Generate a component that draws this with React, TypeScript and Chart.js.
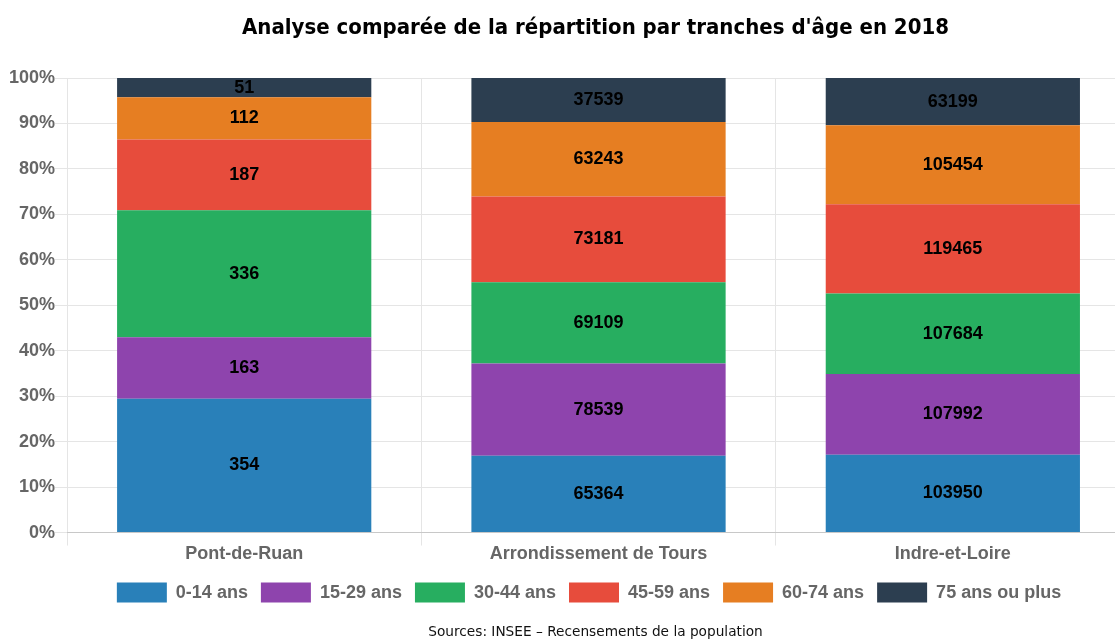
import React, { useEffect, useRef } from "react";
import { Chart, registerables } from "chart.js";

Chart.register(...registerables);

const categories = ["Pont-de-Ruan", "Arrondissement de Tours", "Indre-et-Loire"];
const seriesNames = ["0-14 ans", "15-29 ans", "30-44 ans", "45-59 ans", "60-74 ans", "75 ans ou plus"];
const colors = ["#2980b9", "#8e44ad", "#27ae60", "#e74c3c", "#e67e22", "#2c3e50"];
const age0_14 = [354, 65364, 103950];
const age15_29 = [163, 78539, 107992];
const age30_44 = [336, 69109, 107684];
const age45_59 = [187, 73181, 119465];
const age60_74 = [112, 63243, 105454];
const age75plus = [51, 37539, 63199];
const yTicks = [0, 10, 20, 30, 40, 50, 60, 70, 80, 90, 100];
const titleText = "Analyse comparée de la répartition par tranches d'âge en 2018";
const sourceText = "Sources: INSEE – Recensements de la population";

const rawSeries = [age0_14, age15_29, age30_44, age45_59, age60_74, age75plus];
const FONT = "'Liberation Sans', Arial, sans-serif";

export default function App() {
  const ref = useRef<HTMLCanvasElement>(null);
  useEffect(() => {
    const totals = categories.map((_, i) => rawSeries.reduce((s, arr) => s + arr[i], 0));
    const labelPlugin = {
      id: "segLabels",
      afterLayout(chart: any) {
        const shift = (b: any, dx: number) => {
          if (!b) return;
          b.left += dx;
          b.right += dx;
        };
        shift(chart.titleBlock, 26);
        shift(chart.legend, 19.5);
        chart.boxes.forEach((b: any) => {
          if (b !== chart.titleBlock && b.options && b.options.text === sourceText) shift(b, 26);
        });
      },
      afterDatasetsDraw(chart: any) {
        const ctx = chart.ctx;
        ctx.save();
        ctx.font = "bold 18px " + FONT;
        ctx.fillStyle = "#000";
        ctx.textAlign = "center";
        ctx.textBaseline = "middle";
        chart.data.datasets.forEach((ds: any, di: number) => {
          const meta = chart.getDatasetMeta(di);
          meta.data.forEach((el: any, i: number) => {
            const cy = (el.y + el.base) / 2;
            ctx.fillText(String(rawSeries[di][i]), el.x, cy);
          });
        });
        ctx.restore();
      },
    };
    const chart = new Chart(ref.current!, {
      type: "bar",
      data: {
        labels: categories,
        datasets: seriesNames.map((name, si) => ({
          label: name,
          data: rawSeries[si].map((v, i) => (v / totals[i]) * 100),
          backgroundColor: colors[si],
          borderWidth: 0,
          barPercentage: 0.7175,
          categoryPercentage: 1,
        })),
      },
      options: {
        animation: false,
        responsive: false,
        maintainAspectRatio: false,
        layout: { padding: { left: 9, right: 0, top: 0, bottom: 0 } },
        plugins: {
          title: {
            display: true,
            text: titleText,
            color: "#000",
            font: { family: "'DejaVu Sans Condensed', 'DejaVu Sans', sans-serif", size: 22, weight: "bold" },
            padding: { top: 15, bottom: 36.6 },
          },
          subtitle: {
            display: true,
            position: "bottom",
            text: sourceText,
            color: "#111",
            font: { family: "'DejaVu Sans', sans-serif", size: 13.7, weight: "normal" },
            padding: { top: 12, bottom: 0 },
          },
          legend: {
            position: "bottom",
            labels: {
              color: "#666",
              boxWidth: 50,
              boxHeight: 20,
              padding: 13,
              font: { family: FONT, size: 18, weight: "bold" },
            },
          },
          tooltip: { enabled: false },
        },
        scales: {
          x: {
            stacked: true,
            grid: { color: "#e5e5e5", offset: true, tickLength: 13 },
            ticks: {
              color: "#666",
              font: { family: FONT, size: 18, weight: "bold" },
              padding: -2,
            },
            border: { color: "#c8c8c8" },
            afterFit: (s: any) => {
              s.height += 6.4;
            },
          },
          y: {
            stacked: true,
            min: 0,
            max: 100,
            afterBuildTicks: (axis: any) => {
              axis.ticks = yTicks.map((v) => ({ value: v }));
            },
            grid: { color: "#e5e5e5", tickLength: 12 },
            border: { display: false },
            ticks: {
              color: "#666",
              font: { family: FONT, size: 18, weight: "bold" },
              callback: (v: any) => v + "%",
              padding: 0,
            },
          },
        },
      },
      plugins: [labelPlugin],
    });
    return () => chart.destroy();
  }, []);
  return (
    <div style={{ position: "absolute", left: 0, top: 0, width: 1115, height: 641, overflow: "hidden" }}>
      <canvas ref={ref} width={1130} height={641} style={{ width: 1130, height: 641, display: "block" }} />
    </div>
  );
}
